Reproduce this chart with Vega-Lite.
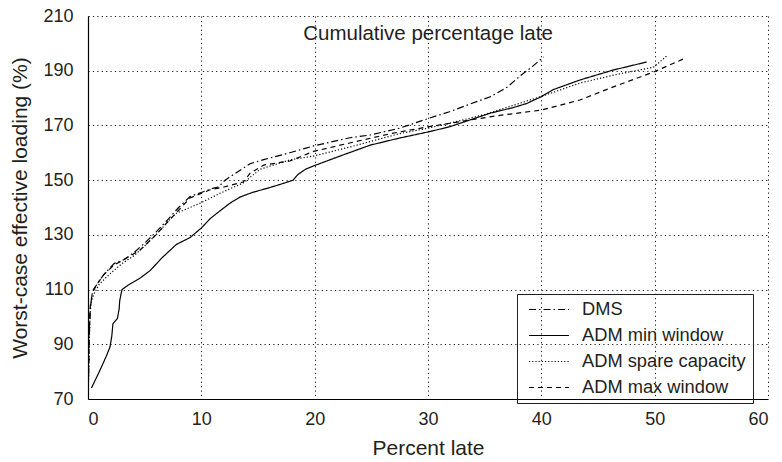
{
  "$schema": "https://vega.github.io/schema/vega-lite/v6.json",
  "width": 680,
  "height": 383,
  "autosize": {"type": "none"},
  "padding": {"left": 88, "top": 16, "right": 14, "bottom": 63},
  "background": "white",
  "config": {
    "font": "Liberation Sans",
    "view": {"stroke": null},
    "axis": {
      "labelFont": "Liberation Sans",
      "titleFont": "Liberation Sans",
      "labelFontSize": 18,
      "titleFontSize": 21,
      "titleFontWeight": "normal",
      "labelColor": "#231f20",
      "titleColor": "#231f20",
      "domainColor": "black",
      "domainWidth": 1.2,
      "ticks": false,
      "gridColor": "black",
      "gridDash": [1.2, 3.2],
      "gridWidth": 1,
      "gridOpacity": 0.9
    },
    "legend": {
      "labelFont": "Liberation Sans",
      "labelFontSize": 18.3,
      "labelColor": "#231f20",
      "labelLimit": 400
    }
  },
  "data": {
    "values": [
      {"series": "DMS", "pct": 0.05, "load": 78},
      {"series": "DMS", "pct": 0.1, "load": 92},
      {"series": "DMS", "pct": 0.2, "load": 103},
      {"series": "DMS", "pct": 0.4, "load": 109.5},
      {"series": "DMS", "pct": 0.8, "load": 112},
      {"series": "DMS", "pct": 1.4, "load": 115.5},
      {"series": "DMS", "pct": 2.3, "load": 119.5},
      {"series": "DMS", "pct": 3.2, "load": 121},
      {"series": "DMS", "pct": 4.1, "load": 123.7},
      {"series": "DMS", "pct": 5, "load": 127},
      {"series": "DMS", "pct": 6, "load": 131},
      {"series": "DMS", "pct": 7, "load": 135.4},
      {"series": "DMS", "pct": 8, "load": 140},
      {"series": "DMS", "pct": 9, "load": 144},
      {"series": "DMS", "pct": 10, "load": 145.5},
      {"series": "DMS", "pct": 11, "load": 147},
      {"series": "DMS", "pct": 11.5, "load": 147.5},
      {"series": "DMS", "pct": 12.1, "load": 150},
      {"series": "DMS", "pct": 13, "load": 152.5},
      {"series": "DMS", "pct": 14.3, "load": 156},
      {"series": "DMS", "pct": 15.5, "load": 157.5},
      {"series": "DMS", "pct": 17.8, "load": 160},
      {"series": "DMS", "pct": 19.9, "load": 162.5},
      {"series": "DMS", "pct": 23.1, "load": 165.5},
      {"series": "DMS", "pct": 24.9, "load": 166.5},
      {"series": "DMS", "pct": 27.5, "load": 169},
      {"series": "DMS", "pct": 30, "load": 172.5},
      {"series": "DMS", "pct": 31.9, "load": 175},
      {"series": "DMS", "pct": 33.5, "load": 177.5},
      {"series": "DMS", "pct": 35.5, "load": 180.5},
      {"series": "DMS", "pct": 37, "load": 184},
      {"series": "DMS", "pct": 38.1, "load": 188},
      {"series": "DMS", "pct": 39.2, "load": 191.5},
      {"series": "DMS", "pct": 40.2, "load": 195},

      {"series": "ADM min window", "pct": 0.3, "load": 74},
      {"series": "ADM min window", "pct": 1.0, "load": 80},
      {"series": "ADM min window", "pct": 1.6, "load": 85.5},
      {"series": "ADM min window", "pct": 1.94, "load": 89},
      {"series": "ADM min window", "pct": 2.1, "load": 93},
      {"series": "ADM min window", "pct": 2.2, "load": 97.5},
      {"series": "ADM min window", "pct": 2.6, "load": 99.5},
      {"series": "ADM min window", "pct": 2.75, "load": 103},
      {"series": "ADM min window", "pct": 2.8, "load": 106},
      {"series": "ADM min window", "pct": 3.0, "load": 110},
      {"series": "ADM min window", "pct": 3.5, "load": 111.5},
      {"series": "ADM min window", "pct": 4.6, "load": 114.2},
      {"series": "ADM min window", "pct": 5.5, "load": 117},
      {"series": "ADM min window", "pct": 6.5, "load": 121.5},
      {"series": "ADM min window", "pct": 7.8, "load": 126.5},
      {"series": "ADM min window", "pct": 9, "load": 129},
      {"series": "ADM min window", "pct": 10, "load": 132.5},
      {"series": "ADM min window", "pct": 10.8, "load": 136},
      {"series": "ADM min window", "pct": 11.4, "load": 138},
      {"series": "ADM min window", "pct": 12.5, "load": 141.5},
      {"series": "ADM min window", "pct": 13.4, "load": 143.8},
      {"series": "ADM min window", "pct": 14.5, "load": 145.5},
      {"series": "ADM min window", "pct": 15.8, "load": 147},
      {"series": "ADM min window", "pct": 17, "load": 148.5},
      {"series": "ADM min window", "pct": 18.1, "load": 150},
      {"series": "ADM min window", "pct": 18.5, "load": 152},
      {"series": "ADM min window", "pct": 19.2, "load": 154},
      {"series": "ADM min window", "pct": 19.9, "load": 155.2},
      {"series": "ADM min window", "pct": 22.5, "load": 159.2},
      {"series": "ADM min window", "pct": 24.9, "load": 162.8},
      {"series": "ADM min window", "pct": 27.5, "load": 165.4},
      {"series": "ADM min window", "pct": 30, "load": 167.6},
      {"series": "ADM min window", "pct": 31.9, "load": 169.5},
      {"series": "ADM min window", "pct": 35.5, "load": 174.5},
      {"series": "ADM min window", "pct": 37.5, "load": 176.5},
      {"series": "ADM min window", "pct": 38.7, "load": 178},
      {"series": "ADM min window", "pct": 40, "load": 180.5},
      {"series": "ADM min window", "pct": 41, "load": 183},
      {"series": "ADM min window", "pct": 43.4, "load": 186.6},
      {"series": "ADM min window", "pct": 46.3, "load": 190.2},
      {"series": "ADM min window", "pct": 49.3, "load": 193.2},

      {"series": "ADM spare capacity", "pct": 0.05, "load": 76},
      {"series": "ADM spare capacity", "pct": 0.1, "load": 90},
      {"series": "ADM spare capacity", "pct": 0.2, "load": 102},
      {"series": "ADM spare capacity", "pct": 0.3, "load": 106},
      {"series": "ADM spare capacity", "pct": 0.6, "load": 109},
      {"series": "ADM spare capacity", "pct": 1, "load": 112},
      {"series": "ADM spare capacity", "pct": 2, "load": 116},
      {"series": "ADM spare capacity", "pct": 3, "load": 119.5},
      {"series": "ADM spare capacity", "pct": 4.1, "load": 122.5},
      {"series": "ADM spare capacity", "pct": 5, "load": 126},
      {"series": "ADM spare capacity", "pct": 6, "load": 130},
      {"series": "ADM spare capacity", "pct": 7.2, "load": 135.5},
      {"series": "ADM spare capacity", "pct": 7.8, "load": 137.9},
      {"series": "ADM spare capacity", "pct": 9.9, "load": 141.6},
      {"series": "ADM spare capacity", "pct": 11.7, "load": 145.3},
      {"series": "ADM spare capacity", "pct": 13.7, "load": 149},
      {"series": "ADM spare capacity", "pct": 15.2, "load": 154},
      {"series": "ADM spare capacity", "pct": 17.8, "load": 157.4},
      {"series": "ADM spare capacity", "pct": 19.9, "load": 158.8},
      {"series": "ADM spare capacity", "pct": 23, "load": 162},
      {"series": "ADM spare capacity", "pct": 27.5, "load": 167},
      {"series": "ADM spare capacity", "pct": 30, "load": 169},
      {"series": "ADM spare capacity", "pct": 31.9, "load": 170.8},
      {"series": "ADM spare capacity", "pct": 35, "load": 174},
      {"series": "ADM spare capacity", "pct": 39, "load": 179.3},
      {"series": "ADM spare capacity", "pct": 41, "load": 182},
      {"series": "ADM spare capacity", "pct": 43.4, "load": 185.5},
      {"series": "ADM spare capacity", "pct": 46.5, "load": 188.5},
      {"series": "ADM spare capacity", "pct": 49.9, "load": 191.3},
      {"series": "ADM spare capacity", "pct": 51.1, "load": 195.5},

      {"series": "ADM max window", "pct": 0.05, "load": 80},
      {"series": "ADM max window", "pct": 0.1, "load": 94},
      {"series": "ADM max window", "pct": 0.2, "load": 104},
      {"series": "ADM max window", "pct": 0.4, "load": 109},
      {"series": "ADM max window", "pct": 0.8, "load": 112},
      {"series": "ADM max window", "pct": 1.4, "load": 115.5},
      {"series": "ADM max window", "pct": 2.3, "load": 119},
      {"series": "ADM max window", "pct": 3, "load": 120.5},
      {"series": "ADM max window", "pct": 4.6, "load": 124.5},
      {"series": "ADM max window", "pct": 6, "load": 130},
      {"series": "ADM max window", "pct": 7.2, "load": 135.5},
      {"series": "ADM max window", "pct": 8, "load": 139},
      {"series": "ADM max window", "pct": 9, "load": 143.5},
      {"series": "ADM max window", "pct": 10.8, "load": 146.5},
      {"series": "ADM max window", "pct": 12, "load": 147.5},
      {"series": "ADM max window", "pct": 13.7, "load": 149.3},
      {"series": "ADM max window", "pct": 14.3, "load": 152.5},
      {"series": "ADM max window", "pct": 15.5, "load": 155.5},
      {"series": "ADM max window", "pct": 17.8, "load": 157},
      {"series": "ADM max window", "pct": 19.9, "load": 160.5},
      {"series": "ADM max window", "pct": 23, "load": 163.5},
      {"series": "ADM max window", "pct": 26.7, "load": 167},
      {"series": "ADM max window", "pct": 30, "load": 169.5},
      {"series": "ADM max window", "pct": 33, "load": 171.5},
      {"series": "ADM max window", "pct": 36, "load": 173.5},
      {"series": "ADM max window", "pct": 40, "load": 175.6},
      {"series": "ADM max window", "pct": 43.4, "load": 179.3},
      {"series": "ADM max window", "pct": 46.3, "load": 184},
      {"series": "ADM max window", "pct": 49.9, "load": 189.5},
      {"series": "ADM max window", "pct": 52.7, "load": 194.6}
    ]
  },
  "layer": [
    {
      "mark": {"type": "line", "color": "black", "strokeWidth": 1.2},
      "encoding": {
        "x": {
          "field": "pct",
          "type": "quantitative",
          "title": "Percent late",
          "scale": {"domain": [0, 60], "nice": false},
          "axis": {"values": [0, 10, 20, 30, 40, 50, 60], "labelPadding": 11, "titlePadding": 9, "grid": true}
        },
        "y": {
          "field": "load",
          "type": "quantitative",
          "title": "Worst-case effective loading (%)",
          "scale": {"domain": [70, 210], "nice": false, "zero": false},
          "axis": {"values": [70, 90, 110, 130, 150, 170, 190, 210], "labelPadding": 15, "titlePadding": 12, "grid": true}
        },
        "order": {"field": "pct", "type": "quantitative"},
        "strokeDash": {
          "field": "series",
          "type": "nominal",
          "scale": {
            "domain": ["DMS", "ADM min window", "ADM spare capacity", "ADM max window"],
            "range": [[7, 3, 1.5, 3], [1, 0], [1.2, 2], [5, 4]]
          },
          "legend": {
            "title": null,
            "orient": "none",
            "legendX": 429,
            "legendY": 278,
            "strokeColor": "#231f20",
            "padding": 7,
            "symbolType": "stroke",
            "symbolSize": 1600,
            "symbolOffset": 4,
            "symbolStrokeColor": "black",
            "symbolStrokeWidth": 1.2,
            "clipHeight": 17,
            "rowPadding": 7,
            "labelOffset": 12,
            "offset": 0
          }
        }
      }
    },
    {
      "data": {"values": [{"caption": "Cumulative percentage late", "px": 30, "py": 203.6}]},
      "mark": {"type": "text", "font": "Liberation Sans", "fontSize": 20.5, "color": "#231f20", "align": "center", "baseline": "middle"},
      "encoding": {
        "x": {"field": "px", "type": "quantitative"},
        "y": {"field": "py", "type": "quantitative"},
        "text": {"field": "caption"}
      }
    }
  ]
}
